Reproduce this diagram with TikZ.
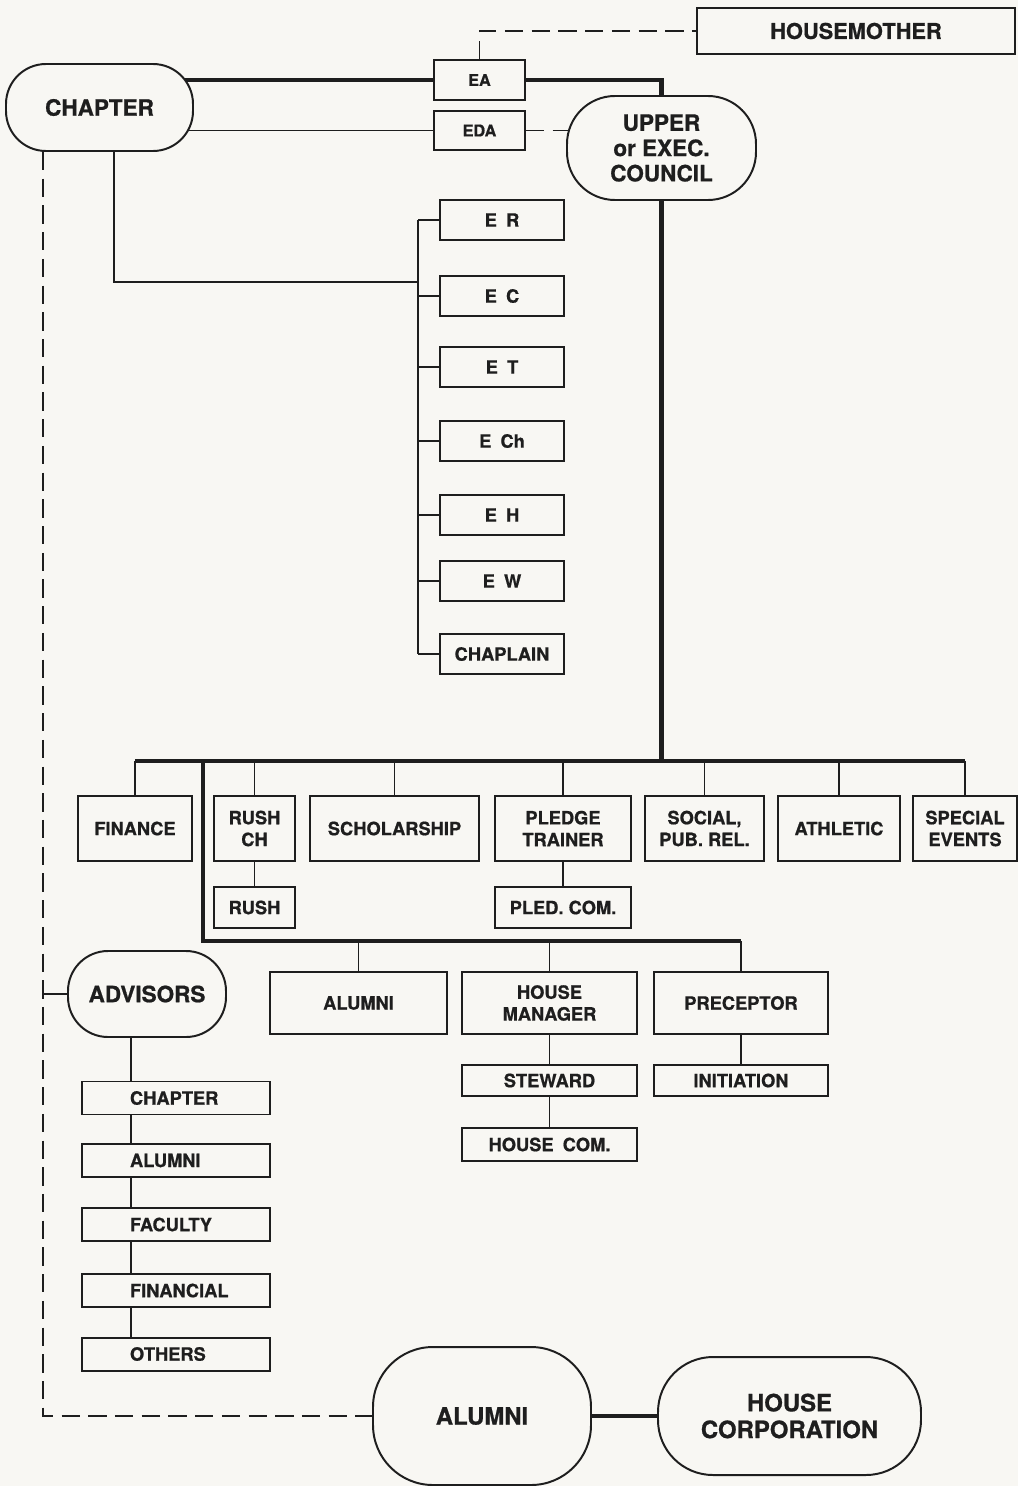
\documentclass[tikz,border=0pt]{standalone}
\usepackage{fontspec}
\setmainfont{TeX Gyre Heros}[BoldFeatures={FakeBold=0.8}]
\usetikzlibrary{backgrounds}
\definecolor{paper}{RGB}{248,247,243}
\definecolor{ink}{RGB}{30,30,30}
\tikzset{
  box/.style 2 args={draw=ink, line width=1.4pt, fill=paper, inner sep=0pt, align=center,
    minimum width=#1*0.025cm, minimum height=#2*0.025cm, text=ink,
    font=\bfseries\fontsize{13}{15.5}\selectfont},
  pill/.style n args={3}{box={#1}{#2}, rounded corners=#3*0.025cm,
    font=\bfseries\fontsize{16}{18}\selectfont},
  bigpill/.style n args={3}{pill={#1}{#2}{#3}, font=\bfseries\fontsize{17}{19}\selectfont},
  smallbox/.style 2 args={box={#1}{#2}, font=\bfseries\fontsize{11.5}{13}\selectfont},
  link/.style={draw=ink, line width=1.4pt},
  heavy/.style={draw=ink, line width=3.4pt},
  dashline/.style={draw=ink, line width=1.4pt, dash pattern=on 13pt off 6pt}
}
\newcommand{\advlabel}[1]{\makebox[4.7cm][l]{\hspace{1.2cm}#1}}
\begin{document}
\begin{tikzpicture}[x=0.025cm, y=-0.025cm]
  \useasboundingbox (0,0) rectangle (1018,1486);

  % top group
  \node[pill={187}{87}{40}] (chapter) at (99.5,107.5) {CHAPTER};
  \node[box={318}{46}, font=\bfseries\fontsize{15.5}{18}\selectfont] (housemother) at (856,31) {HOUSEMOTHER};
  \node[smallbox={91}{40}] (ea) at (479.5,80) {EA};
  \node[smallbox={91}{39}] (eda) at (479.5,130.5) {EDA};
  \node[pill={189}{104}{48}] (council) at (661.5,148) {UPPER\\or EXEC.\\COUNCIL};

  \foreach \i/\y/\txt in {1/220/E\enspace R, 2/296/E\enspace C, 3/367/E\enspace T,
      4/441/E\enspace Ch, 5/515/E\enspace H, 6/581/E\enspace W, 7/654/CHAPLAIN} {
    \node[box={124}{40}] (e\i) at (502,\y) {\txt};
  }

  % committees
  \node[box={114}{65}] (finance) at (135,828.5) {FINANCE};
  \node[box={81}{65}] (rushch) at (254.5,828.5) {RUSH\\CH};
  \node[box={169}{65}] (scholarship) at (394.5,828.5) {SCHOLARSHIP};
  \node[box={136}{65}] (pledge) at (563,828.5) {PLEDGE\\TRAINER};
  \node[box={119}{65}] (social) at (704.5,828.5) {SOCIAL,\\PUB.~REL.};
  \node[box={122}{65}] (athletic) at (839,828.5) {ATHLETIC};
  \node[box={104}{65}] (special) at (965,828.5) {SPECIAL\\EVENTS};
  \node[box={81}{41}] (rush) at (254.5,907.5) {RUSH};
  \node[box={136}{41}] (pledcom) at (563,907.5) {PLED.~COM.};

  \node[box={177}{62}] (alumni) at (358.5,1003) {ALUMNI};
  \node[box={175}{62}] (housemgr) at (549.5,1003) {HOUSE\\MANAGER};
  \node[box={174}{62}] (preceptor) at (741,1003) {PRECEPTOR};
  \node[box={175}{31}] (steward) at (549.5,1080.5) {STEWARD};
  \node[box={174}{31}] (initiation) at (741,1080.5) {INITIATION};
  \node[box={175}{33}] (housecom) at (549.5,1144.5) {HOUSE\enspace COM.};

  % advisors
  \node[pill={158}{86}{40}] (advisors) at (147,994) {ADVISORS};
  \foreach \n/\y/\txt in {achapter/1098/CHAPTER, aalumni/1160.5/ALUMNI, afaculty/1224.5/FACULTY,
      afinancial/1290.5/FINANCIAL, aothers/1354/OTHERS} {
    \node[box={188}{33}] (\n) at (176,\y) {\advlabel{\txt}};
  }

  \node[bigpill={218}{138}{60}] (alumnib) at (482,1416) {ALUMNI};
  \node[bigpill={263}{118}{55}] (housecorp) at (789.5,1416) {HOUSE\\CORPORATION};

  \coordinate (bus) at (661.5,761);
  \coordinate (bus2) at (203,941);
  \coordinate (spine) at (418,282);
  \coordinate (achain) at (131,1000);
  \coordinate (cdash) at ([xshift=-1.41cm]chapter.south);

  \begin{scope}[on background layer]
    \fill[paper] (0,0) rectangle (1018,1486);
    \draw[heavy] (ea.center) -- (chapter.center |- ea.center);
    \draw[heavy] (ea.center) -| (council.center);
    \draw[link] (eda.center) -- (chapter.center |- eda.center);
    \draw[dashline] (eda.east) -- (council.center |- eda.east);
    \draw[dashline] (ea.north) |- (housemother.west);

    \draw[link] ([xshift=0.36cm]chapter.south) |- (spine);
    \draw[link] (e1.center -| spine) -- (e7.center -| spine);
    \foreach \i in {1,...,7}
      \draw[link] (e\i.center) -- (e\i.center -| spine);

    \draw[heavy] (council.center) -- (bus);
    \draw[heavy] (finance.north |- bus) -- (special.north |- bus);
    \foreach \n in {finance,rushch,scholarship,pledge,social,athletic,special}
      \draw[link] (\n.north) -- (\n.north |- bus);
    \draw[link] (rushch) -- (rush);
    \draw[link] (pledge) -- (pledcom);

    \draw[heavy] (bus -| bus2) -- (bus2) -- (preceptor.north |- bus2);
    \foreach \n in {alumni,housemgr,preceptor}
      \draw[link] (\n.north) -- (\n.north |- bus2);
    \draw[link] (housemgr) -- (steward) -- (housecom);
    \draw[link] (preceptor) -- (initiation);

    \draw[link] (advisors.center -| achain) -- (aothers.center -| achain);
    \draw[link] (advisors.center) -- (advisors.center -| cdash);
    \draw[dashline] (cdash) |- (alumnib.west);
    \draw[heavy] (alumnib.center) -- (housecorp.center);
  \end{scope}
\end{tikzpicture}
\end{document}
